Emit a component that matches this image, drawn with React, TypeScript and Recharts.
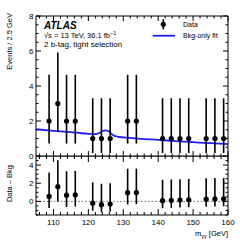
import React from 'react';
import {
  ComposedChart,
  Scatter,
  Line,
  XAxis,
  YAxis,
  ErrorBar,
  ReferenceLine,
  ReferenceArea,
} from 'recharts';

// bin centres (2.5 GeV bins) with non-zero counts
const binCenters = [108.75, 111.25, 113.75, 116.25, 121.25, 123.75, 126.25, 131.25, 133.75, 141.25, 143.75, 146.25, 148.75, 153.75, 156.25, 158.75];
const events = [2, 3, 2, 2, 1, 1, 1, 2, 2, 1, 1, 1, 1, 1, 1, 1];
const errLow = [1.29, 1.63, 1.29, 1.29, 0.83, 0.83, 0.83, 1.29, 1.29, 0.83, 0.83, 0.83, 0.83, 0.83, 0.83, 0.83];
const errHigh = [2.64, 2.92, 2.64, 2.64, 2.3, 2.3, 2.3, 2.64, 2.64, 2.3, 2.3, 2.3, 2.3, 2.3, 2.3, 2.3];
const residuals = [0.55, 1.62, 0.68, 0.72, -0.2, -0.36, -0.3, 0.96, 0.98, 0.08, 0.12, 0.15, 0.18, 0.24, 0.27, 0.28];

// bkg-only fit curve
const fitMass = [105, 110, 115, 118, 120, 122, 123, 124, 125, 126, 127, 128, 130, 132.5, 135, 140, 145, 150, 155, 160];
const fitValue = [1.53, 1.44, 1.36, 1.3, 1.27, 1.25, 1.3, 1.43, 1.47, 1.38, 1.2, 1.12, 1.06, 1.02, 0.98, 0.92, 0.85, 0.79, 0.73, 0.68];

const xTicks = [106, 108, 110, 112, 114, 116, 118, 120, 122, 124, 126, 128, 130, 132, 134, 136, 138, 140, 142, 144, 146, 148, 150, 152, 154, 156, 158, 160];
const xLabels = [110, 120, 130, 140, 150, 160];
const yTicksTop = [0, 0.5, 1, 1.5, 2, 2.5, 3, 3.5, 4, 4.5, 5, 5.5, 6, 6.5, 7, 7.5, 8];
const yLabelsTop = [0, 2, 4, 6, 8];
const yTicksBottom = [-1.5, -1, -0.5, 0, 0.5, 1, 1.5, 2, 2.5, 3, 3.5, 4, 4.5, 5];
const yLabelsBottom = [0, 2, 4];

const dataPoints = binCenters.map((x, i) => ({ x, y: events[i], err: [errLow[i], errHigh[i]] }));
const residualPoints = binCenters.map((x, i) => ({ x, y: residuals[i], err: [errLow[i], errHigh[i]] }));
const fitLine = fitMass.map((x, i) => ({ x, y: fitValue[i] }));

const LEFT = 36;
const RIGHT = 228;
const FONT = '"Liberation Sans", Arial, sans-serif';

const makeXTick = (top: number, bottom: number, major: number, minor: number, labels: boolean) => (props: any) => {
  const { x, payload } = props;
  const isMajor = xLabels.includes(payload.value);
  const len = isMajor ? major : minor;
  return (
    <g>
      <line x1={x} x2={x} y1={bottom} y2={bottom - len} stroke="#000" strokeWidth={1} />
      <line x1={x} x2={x} y1={top} y2={top + len} stroke="#000" strokeWidth={1} />
      {labels && isMajor && (
        <text x={x} y={bottom + 9.5} textAnchor="middle" fontSize={8} fontFamily={FONT} fill="#000">
          {payload.value}
        </text>
      )}
    </g>
  );
};

const makeYTick = (majors: number[]) => (props: any) => {
  const { y, payload } = props;
  const isMajor = majors.includes(payload.value);
  const len = isMajor ? 5 : 2.5;
  return (
    <g>
      <line x1={LEFT} x2={LEFT + len} y1={y} y2={y} stroke="#000" strokeWidth={1} />
      <line x1={RIGHT} x2={RIGHT - len} y1={y} y2={y} stroke="#000" strokeWidth={1} />
      {isMajor && (
        <text x={LEFT - 2.5} y={y} dy="0.35em" textAnchor="end" fontSize={8} fontFamily={FONT} fill="#000">
          {payload.value}
        </text>
      )}
    </g>
  );
};

const dot = (p: any) => <circle cx={p.cx} cy={p.cy} r={2.6} fill="#000" />;

export default function App() {
  return (
    <div style={{ position: 'absolute', left: 0, top: 0, width: 240, height: 240, background: '#fff' }}>
      <div style={{ position: 'absolute', left: 0, top: 0 }}>
        <ComposedChart width={240} height={165} margin={{ top: 16, right: 12, bottom: 8, left: 35 }}>
          <XAxis
            type="number"
            dataKey="x"
            domain={[105, 160]}
            ticks={xTicks}
            interval={0}
            allowDataOverflow
            height={1}
            tickSize={0}
            tickMargin={0}
            axisLine={false}
            tickLine={false}
            tick={makeXTick(16, 156, 5, 2.5, false)}
          />
          <YAxis
            type="number"
            dataKey="y"
            domain={[0, 8]}
            ticks={yTicksTop}
            interval={0}
            allowDataOverflow
            width={1}
            tickSize={0}
            tickMargin={0}
            axisLine={false}
            tickLine={false}
            tick={makeYTick(yLabelsTop)}
          />
          <ReferenceArea x1={105} x2={160} y1={0} y2={8} fill="none" stroke="#000" strokeWidth={1} />
          <Line
            data={fitLine}
            dataKey="y"
            type="monotone"
            stroke="#1f1fff"
            strokeWidth={1.8}
            dot={false}
            isAnimationActive={false}
          />
          <Scatter data={dataPoints} dataKey="y" shape={dot} isAnimationActive={false}>
            <ErrorBar dataKey="err" direction="y" width={0} stroke="#000" strokeWidth={1.6} isAnimationActive={false} />
          </Scatter>
        </ComposedChart>
      </div>
      <div style={{ position: 'absolute', left: 0, top: 156 }}>
        <ComposedChart width={240} height={84} margin={{ top: 0, right: 12, bottom: 24, left: 35 }}>
          <XAxis
            type="number"
            dataKey="x"
            domain={[105, 160]}
            ticks={xTicks}
            interval={0}
            allowDataOverflow
            height={1}
            tickSize={0}
            tickMargin={0}
            axisLine={false}
            tickLine={false}
            tick={makeXTick(0, 59, 6, 3, true)}
          />
          <YAxis
            type="number"
            dataKey="y"
            domain={[-1.5, 5]}
            ticks={yTicksBottom}
            interval={0}
            allowDataOverflow
            width={1}
            tickSize={0}
            tickMargin={0}
            axisLine={false}
            tickLine={false}
            tick={makeYTick(yLabelsBottom)}
          />
          <ReferenceArea x1={105} x2={160} y1={-1.5} y2={5} fill="none" stroke="#000" strokeWidth={1} />
          <ReferenceLine y={0} stroke="#888" strokeDasharray="2 1.5" strokeWidth={1} />
          <Scatter data={residualPoints} dataKey="y" shape={dot} isAnimationActive={false}>
            <ErrorBar dataKey="err" direction="y" width={0} stroke="#000" strokeWidth={1.6} isAnimationActive={false} />
          </Scatter>
        </ComposedChart>
      </div>
      <svg width={240} height={240} style={{ position: 'absolute', left: 0, top: 0, pointerEvents: 'none' }} fontFamily={FONT}>
        <text x={44} y={28.5} fontSize={10} fontWeight="bold" fontStyle="italic">ATLAS</text>
        <text x={44} y={38} fontSize={7.5}>
          √s = 13 TeV, 36.1 fb<tspan dy={-3} fontSize={5.5}>−1</tspan>
        </text>
        <text x={44} y={47} fontSize={8}>2 b-tag, tight selection</text>

        <line x1={163.3} x2={163.3} y1={19.3} y2={29.3} stroke="#000" strokeWidth={1.6} />
        <circle cx={163.3} cy={24.3} r={2.6} fill="#000" />
        <text x={183} y={26.8} fontSize={7}>Data</text>
        <line x1={152.7} x2={175} y1={35.7} y2={35.7} stroke="#1f1fff" strokeWidth={1.8} />
        <text x={183} y={38.2} fontSize={7}>Bkg-only fit</text>

        <text transform="translate(11.5,13) rotate(-90)" textAnchor="end" fontSize={7.5}>Events / 2.5 GeV</text>
        <text transform="translate(11.5,165) rotate(-90)" textAnchor="end" fontSize={7.5}>Data – Bkg</text>
        <text x={228} y={236} textAnchor="end" fontSize={7.5}>
          m<tspan dy={2} fontSize={5.5}>γγ</tspan><tspan dy={-2}> [GeV]</tspan>
        </text>
      </svg>
    </div>
  );
}
